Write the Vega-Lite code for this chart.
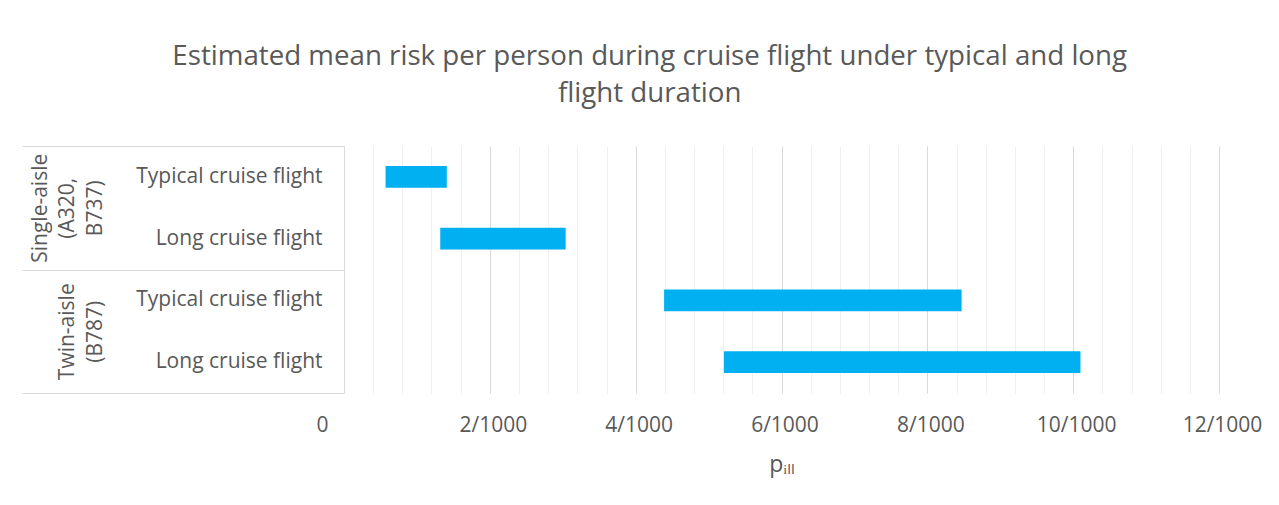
{
  "$schema": "https://vega.github.io/schema/vega-lite/v6.json",
  "width": 875,
  "height": 247,
  "padding": {"left": 21, "top": 42, "right": 5, "bottom": 5},
  "background": "white",
  "title": {
    "text": ["Estimated mean risk per person during cruise flight under typical and long", "flight duration"],
    "font": "Open Sans",
    "fontSize": 27.7,
    "fontWeight": "normal",
    "color": "#595959",
    "anchor": "middle",
    "frame": "bounds",
    "lineHeight": 37,
    "offset": 38,
    "dx": 8
  },
  "config": {"view": {"stroke": null}, "font": "Open Sans"},
  "data": {
    "values": [
      {"row": "Single-aisle (A320, B737) | Typical cruise flight", "group": "Single-aisle (A320, B737)", "flight": "Typical cruise flight", "low": 0.00057, "high": 0.00141},
      {"row": "Single-aisle (A320, B737) | Long cruise flight", "group": "Single-aisle (A320, B737)", "flight": "Long cruise flight", "low": 0.00132, "high": 0.00304},
      {"row": "Twin-aisle (B787) | Typical cruise flight", "group": "Twin-aisle (B787)", "flight": "Typical cruise flight", "low": 0.00439, "high": 0.00847},
      {"row": "Twin-aisle (B787) | Long cruise flight", "group": "Twin-aisle (B787)", "flight": "Long cruise flight", "low": 0.00521, "high": 0.0101}
    ]
  },
  "layer": [
    {
      "mark": {"type": "bar", "color": "#00B0F0", "height": {"band": 0.356}},
      "encoding": {
        "y": {
          "field": "row",
          "type": "nominal",
          "sort": null,
          "scale": {"paddingInner": 0, "paddingOuter": 0},
          "axis": {
            "orient": "left",
            "title": null,
            "domain": false,
            "ticks": false,
            "grid": false,
            "labelExpr": "split(datum.value, ' | ')[1]",
            "labelPadding": 22,
            "labelFont": "Open Sans",
            "labelFontSize": 21,
            "labelColor": "#595959",
            "labelLimit": 300
          }
        },
        "x": {
          "field": "low",
          "type": "quantitative",
          "scale": {"domain": [0, 0.012], "nice": false, "zero": true},
          "axis": {
            "orient": "bottom",
            "values": [0, 0.002, 0.004, 0.006, 0.008, 0.01, 0.012],
            "labelExpr": "datum.value == 0 ? '0' : round(datum.value * 1000) + '/1000'",
            "labelFlush": false,
            "grid": true,
            "gridColor": "#D9D9D9",
            "domain": false,
            "ticks": false,
            "labelFont": "Open Sans",
            "labelFontSize": 21,
            "labelColor": "#595959",
            "labelPadding": 21,
            "labelOffset": {"condition": {"test": "datum.value == 0", "value": -22}, "value": 3},
            "title": "pᵢₗₗ",
            "titleFont": "Open Sans",
            "titleFontSize": 23,
            "titleFontWeight": "normal",
            "titleColor": "#595959",
            "titlePadding": 18
          }
        },
        "x2": {"field": "high"}
      }
    },
    {
      "mark": {"type": "bar", "opacity": 0},
      "encoding": {
        "y": {
          "field": "group",
          "type": "nominal",
          "sort": null,
          "scale": {"paddingInner": 0, "paddingOuter": 0},
          "axis": {
            "orient": "left",
            "title": null,
            "grid": false,
            "domain": true,
            "domainColor": "#D9D9D9",
            "ticks": true,
            "tickBand": "extent",
            "tickSize": 322,
            "tickColor": "#D9D9D9",
            "labelAngle": 270,
            "labelAlign": "center",
            "labelBaseline": "bottom",
            "labelPadding": -28,
            "labelExpr": "datum.value ? split(length(split(datum.value, ' ')) < 3 ? ' ' + datum.value : datum.value, ' ') : ''",
            "labelFont": "Open Sans",
            "labelFontSize": 21,
            "labelColor": "#595959",
            "labelLineHeight": 27.5,
            "labelLimit": 300
          }
        },
        "x": {
          "field": "low",
          "type": "quantitative",
          "axis": {
            "orient": "top",
            "values": [0.0004, 0.0008, 0.0012, 0.0016, 0.0024, 0.0028, 0.0032, 0.0036, 0.0044, 0.0048, 0.0052, 0.0056, 0.0064, 0.0068, 0.0072, 0.0076, 0.0084, 0.0088, 0.0092, 0.0096, 0.0104, 0.0108, 0.0112, 0.0116],
            "grid": true,
            "gridColor": "#F0F0F0",
            "labels": false,
            "ticks": false,
            "domain": false,
            "title": null
          }
        },
        "x2": {"field": "high"}
      }
    }
  ],
  "resolve": {"scale": {"y": "independent"}, "axis": {"x": "independent", "y": "independent"}}
}
